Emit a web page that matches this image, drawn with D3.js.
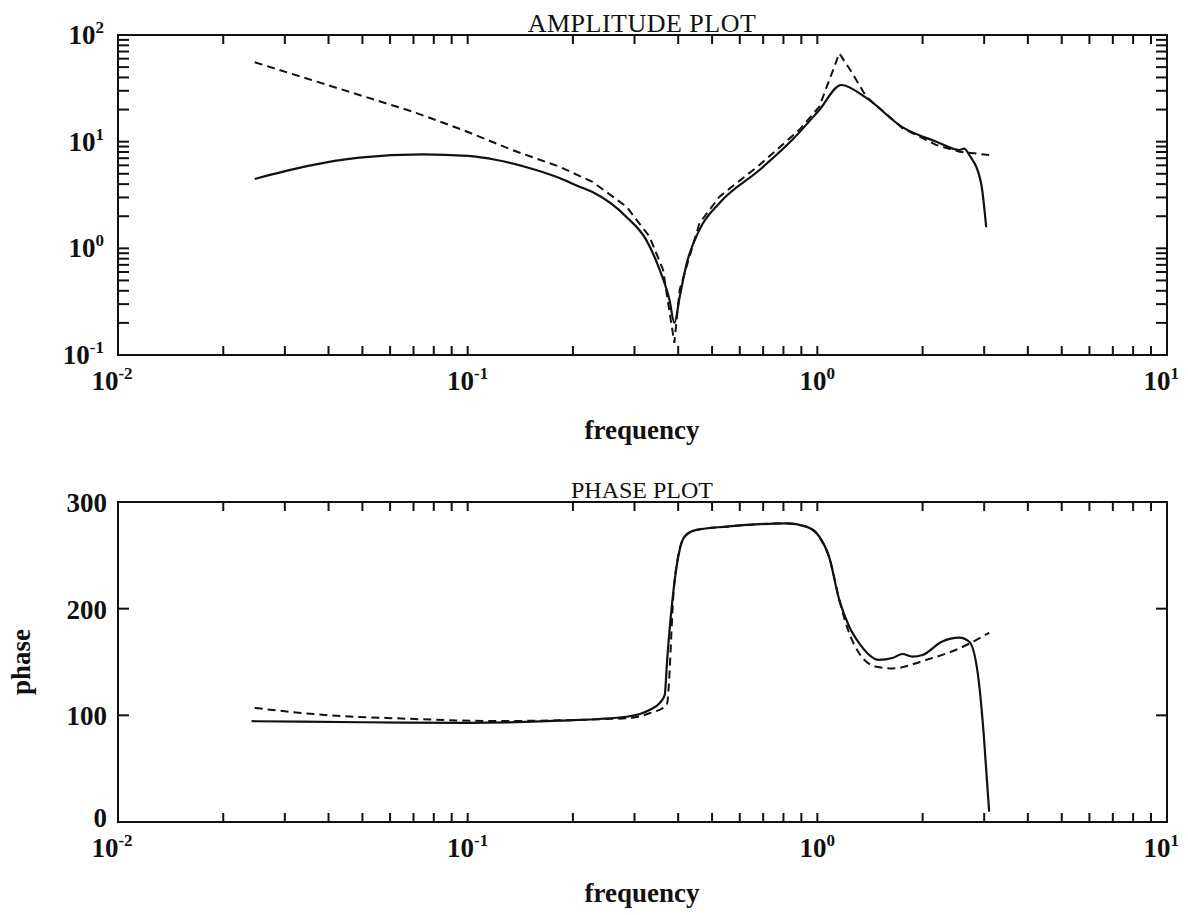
<!DOCTYPE html>
<html>
<head>
<meta charset="utf-8">
<script src="https://cdn.jsdelivr.net/npm/d3@7"></script>
<style>
  body { margin: 0; background: #fff; }
  text { font-family: "Liberation Serif", "DejaVu Serif", serif; fill: #111; }
</style>
</head>
<body>
<svg id="chart" width="1188" height="915"></svg>
<script>
// ---- data ----
// amplitude, measured (solid)
const ampMeasFreq = [0.0246, 0.049, 0.0743, 0.1, 0.121, 0.15, 0.183, 0.209, 0.2275, 0.2845, 0.324, 0.354, 0.3776, 0.39, 0.404, 0.423, 0.46, 0.525, 0.683, 0.848, 1.013, 1.171, 1.38, 1.75, 2.19, 2.55, 2.63, 2.72, 2.94, 3.04]
const ampMeasVal  = [4.47, 7.1, 7.6, 7.35, 6.73, 5.66, 4.56, 3.78, 3.37, 1.97, 1.2, 0.63, 0.33, 0.2, 0.35, 0.72, 1.49, 2.66, 5.42, 10.4, 19.8, 34, 25.7, 13.7, 10, 8.35, 8.6, 7.5, 4.07, 1.58]
// amplitude, model (dashed)
const ampModelFreq = [0.0246, 0.0697, 0.0967, 0.134, 0.171, 0.183, 0.2275, 0.2845, 0.331, 0.362, 0.39, 0.404, 0.46, 0.525, 0.683, 0.888, 1.013, 1.156, 1.26, 1.38, 1.75, 2.19, 2.55, 3.1]
const ampModelVal  = [55.5, 19.1, 12.9, 8.36, 6.3, 5.83, 4.2, 2.46, 1.29, 0.63, 0.13, 0.41, 1.72, 3.05, 6.04, 12.9, 21.3, 67.3, 43.7, 26.4, 13.4, 9.3, 8.05, 7.5]
// phase, measured (solid)
const phMeasFreq = [0.0241, 0.05, 0.1, 0.183, 0.2845, 0.331, 0.354, 0.366, 0.372, 0.39, 0.417, 0.451, 0.55, 0.815, 0.93, 1.013, 1.08, 1.156, 1.234, 1.318, 1.5, 1.64, 1.75, 1.87, 2.0, 2.27, 2.55, 2.72, 2.9, 2.99, 3.1]
const phMeasVal  = [94.5, 93.5, 93, 95, 98.7, 105, 111.5, 119, 152, 224, 267.5, 273.8, 276.9, 280, 276.9, 267.5, 248.8, 208, 183, 167.5, 152, 153.7, 157.5, 155, 156.6, 169, 172.8, 169, 130, 83, 9.7]
// phase, model (dashed)
const phModelFreq = [0.0246, 0.0404, 0.0627, 0.121, 0.2845, 0.331, 0.371, 0.39, 0.417, 0.451, 0.55, 0.815, 0.93, 1.013, 1.08, 1.156, 1.234, 1.318, 1.475, 1.64, 2.05, 2.55, 3.1]
const phModelVal  = [106.9, 100, 97.2, 94.7, 97.2, 101.9, 109.7, 224, 267.5, 273.8, 276.9, 280, 276.9, 267.5, 248.8, 208, 176.9, 158, 145.6, 144, 152, 162.8, 177.5]

// axis ticks
const decades = [0.01, 0.1, 1, 10]
const decadeExp = ['-2', '-1', '0', '1']
const ampDecades = [0.1, 1, 10, 100]
const ampDecadeExp = ['-1', '0', '1', '2']
const phaseTicks = [0, 100, 200, 300]

const svg = d3.select('#chart')
const left = 118, right = 1167
const top1 = 35, bot1 = 355
const top2 = 502, bot2 = 822
const tickLen = 9

const xScale = d3.scaleLog().domain([0.01, 10]).range([left, right])
const yAmp = d3.scaleLog().domain([0.1, 100]).range([bot1, top1])
const yPh = d3.scaleLinear().domain([0, 300]).range([bot2, top2])

// every 1..9 x decade value for minor ticks
const logTicks = (lo, hi) => {
	const out = []
	for (let e = Math.log10(lo); e < Math.log10(hi); e++)
		for (let m = 1; m < 10; m++) out.push(m * Math.pow(10, e))
	out.push(hi)
	return out
}
const xMinor = logTicks(0.01, 10)

const supLabel = (sel, base, exp) => {
	sel.append('tspan').text(base)
	sel.append('tspan').text(exp)
		.attr('dy', -11)
		.style('font-size', '17px')
}

const drawFrame = (top, bot) => {
	svg.append('rect')
		.attr('x', left).attr('y', top)
		.attr('width', right - left).attr('height', bot - top)
		.attr('fill', 'none').attr('stroke', '#111').attr('stroke-width', 2)

	// x ticks on bottom and top, pointing inwards
	svg.append('g').selectAll('line')
		.data(xMinor)
		.enter().append('line')
			.attr('x1', d => xScale(d)).attr('x2', d => xScale(d))
			.attr('y1', bot).attr('y2', bot - tickLen)
			.attr('stroke', '#111').attr('stroke-width', 2)
	svg.append('g').selectAll('line')
		.data(xMinor)
		.enter().append('line')
			.attr('x1', d => xScale(d)).attr('x2', d => xScale(d))
			.attr('y1', top).attr('y2', top + tickLen)
			.attr('stroke', '#111').attr('stroke-width', 2)
}

const yTicksInward = (ticks, scale) => {
	const g = svg.append('g')
	g.selectAll('line.l')
		.data(ticks)
		.enter().append('line')
			.attr('class', 'l')
			.attr('x1', left).attr('x2', left + 11)
			.attr('y1', d => scale(d)).attr('y2', d => scale(d))
			.attr('stroke', '#111').attr('stroke-width', 2)
	g.selectAll('line.r')
		.data(ticks)
		.enter().append('line')
			.attr('class', 'r')
			.attr('x1', right).attr('x2', right - 11)
			.attr('y1', d => scale(d)).attr('y2', d => scale(d))
			.attr('stroke', '#111').attr('stroke-width', 2)
}

const xLabels = (baseline) => {
	decades.forEach((d, i) => {
		const last = i === decades.length - 1
		const t = svg.append('text')
			.attr('x', last ? xScale(d) + 12 : xScale(d) - (i === 0 ? 6 : 0))
			.attr('y', baseline)
			.attr('text-anchor', last ? 'end' : 'middle')
			.style('font-size', '27px')
			.style('font-weight', 'bold')
		supLabel(t, '10', decadeExp[i])
	})
}

// ---------- amplitude plot ----------
drawFrame(top1, bot1)
yTicksInward(logTicks(0.1, 100).filter(d => d > 0.1 && d < 100), yAmp)

ampDecades.forEach((d, i) => {
	const t = svg.append('text')
		.attr('x', 104)
		.attr('y', yAmp(d) + 9)
		.attr('text-anchor', 'end')
		.style('font-size', '27px')
		.style('font-weight', 'bold')
	supLabel(t, '10', ampDecadeExp[i])
})
xLabels(390)

svg.append('text')
	.attr('x', 642).attr('y', 32)
	.attr('text-anchor', 'middle')
	.style('font-size', '26px')
	.style('letter-spacing', '0.5px')
	.text('AMPLITUDE PLOT')

svg.append('text')
	.attr('x', 642).attr('y', 439)
	.attr('text-anchor', 'middle')
	.style('font-size', '27px')
	.style('font-weight', 'bold')
	.text('frequency')

const ampLine = d3.line()
	.x(d => xScale(d[0]))
	.y(d => yAmp(d[1]))

svg.append('path')
	.datum(d3.zip(ampModelFreq, ampModelVal))
	.attr('d', ampLine.curve(d3.curveLinear))
	.attr('fill', 'none').attr('stroke', '#111').attr('stroke-width', 2)
	.attr('stroke-dasharray', '8,5')

svg.append('path')
	.datum(d3.zip(ampMeasFreq, ampMeasVal))
	.attr('d', ampLine.curve(d3.curveMonotoneX))
	.attr('fill', 'none').attr('stroke', '#111').attr('stroke-width', 2.2)

// ---------- phase plot ----------
drawFrame(top2, bot2)
yTicksInward([100, 200], yPh)

phaseTicks.forEach(d => {
	svg.append('text')
		.attr('x', 107)
		.attr('y', yPh(d) + (d === 0 ? 5 : 10))
		.attr('text-anchor', 'end')
		.style('font-size', '27px')
		.style('font-weight', 'bold')
		.text(d)
})
xLabels(857)

svg.append('text')
	.attr('x', 642).attr('y', 498)
	.attr('text-anchor', 'middle')
	.style('font-size', '24px')
	.text('PHASE PLOT')

svg.append('text')
	.attr('x', 642).attr('y', 902)
	.attr('text-anchor', 'middle')
	.style('font-size', '27px')
	.style('font-weight', 'bold')
	.text('frequency')

svg.append('text')
	.attr('transform', `translate(30, ${(top2 + bot2) / 2}) rotate(-90)`)
	.attr('text-anchor', 'middle')
	.style('font-size', '27px')
	.style('font-weight', 'bold')
	.text('phase')

const phLine = d3.line()
	.x(d => xScale(d[0]))
	.y(d => yPh(d[1]))
	.curve(d3.curveMonotoneX)

svg.append('path')
	.datum(d3.zip(phModelFreq, phModelVal))
	.attr('d', phLine)
	.attr('fill', 'none').attr('stroke', '#111').attr('stroke-width', 2)
	.attr('stroke-dasharray', '8,5')

svg.append('path')
	.datum(d3.zip(phMeasFreq, phMeasVal))
	.attr('d', phLine)
	.attr('fill', 'none').attr('stroke', '#111').attr('stroke-width', 2.2)
</script>
</body>
</html>
